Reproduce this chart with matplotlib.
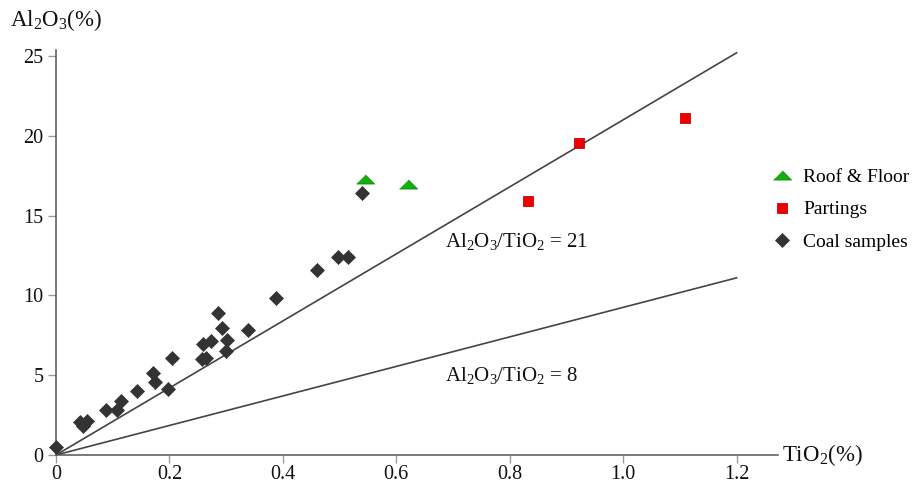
import matplotlib
matplotlib.use("Agg")
import matplotlib.pyplot as plt

plt.rcParams['font.family'] = ['Liberation Serif', 'DejaVu Serif']
plt.rcParams['mathtext.fontset'] = 'custom'
plt.rcParams['mathtext.rm'] = 'Liberation Serif'
plt.rcParams['mathtext.it'] = 'Liberation Serif:italic'

# ---- data ----
coal_tio2 = [0.0, 0.043, 0.048, 0.055, 0.088, 0.107, 0.115, 0.143, 0.171, 0.174,
             0.198, 0.205, 0.257, 0.264, 0.260, 0.274, 0.285, 0.293, 0.301, 0.299,
             0.339, 0.388, 0.460, 0.497, 0.515, 0.539]
coal_al2o3 = [0.5, 2.05, 1.8, 2.1, 2.85, 2.8, 3.4, 4.0, 5.15, 4.6,
              4.15, 6.1, 6.0, 6.05, 6.95, 7.15, 8.9, 7.95, 7.2, 6.5,
              7.85, 9.85, 11.6, 12.4, 12.4, 16.4]
roof_tio2 = [0.544, 0.621]
roof_al2o3 = [17.3, 17.0]
part_tio2 = [0.832, 0.922, 1.109]
part_al2o3 = [15.92, 19.54, 21.1]
ref_x_end = 1.2
ref_lines_y_end = [25.2, 11.1]   # end points of the reference lines at TiO2 = 1.2
ref_labels = [r'Al$_2$O$_3$/TiO$_2$ = 21', r'Al$_2$O$_3$/TiO$_2$ = 8']
x_ticks = [0, 0.2, 0.4, 0.6, 0.8, 1.0, 1.2]
x_tick_labels = ['0', '0.2', '0.4', '0.6', '0.8', '1.0', '1.2']
y_ticks = [0, 5, 10, 15, 20, 25]

W, H = 919, 487
fig = plt.figure(figsize=(W / 100, H / 100), dpi=100)
x0, x1 = 56, 778
y0, y1 = 455, 49.6
ax = fig.add_axes([x0 / W, (H - y0) / H, (x1 - x0) / W, (y0 - y1) / H])
ax.set_xlim(0, 1.273)
ax.set_ylim(0, 25.4)

line_col = '#444444'
for yend in ref_lines_y_end:
    ax.plot([0, ref_x_end], [0, yend], color=line_col, lw=1.2, zorder=1)

ax.text(0.685, 13.36, ref_labels[0], fontsize=15, ha='left', va='center', color='#111111')
ax.text(0.685, 5.0, ref_labels[1], fontsize=15, ha='left', va='center', color='#111111')

tri = [(-1, -0.5), (1, -0.5), (0, 0.5)]
ax.plot(roof_tio2, roof_al2o3, linestyle='none', marker=tri, markersize=13,
        color='#10b010', markeredgecolor='#0a8a0a', markeredgewidth=0.6,
        label='Roof & Floor', zorder=3, clip_on=False)
ax.plot(part_tio2, part_al2o3, linestyle='none', marker='s', markersize=7.5,
        color='#ee0000', markeredgecolor='#cc0000', markeredgewidth=0.6,
        label='Partings', zorder=3, clip_on=False)
ax.plot(coal_tio2, coal_al2o3, linestyle='none', marker='D', markersize=7,
        color='#333333', markeredgecolor='#333333', markeredgewidth=0.5,
        label='Coal samples', zorder=3, clip_on=False)

for s in ['top', 'right']:
    ax.spines[s].set_visible(False)
for s in ['left', 'bottom']:
    ax.spines[s].set_color('#555555')
    ax.spines[s].set_linewidth(1.1)

ax.set_xticks(x_ticks)
ax.set_xticklabels(x_tick_labels)
ax.set_yticks(y_ticks)
ax.tick_params(axis='both', labelsize=14.5, colors='#999999', labelcolor='#111111',
               length=6, width=1, direction='out')
ax.tick_params(axis='x', pad=1)
ax.tick_params(axis='y', pad=3)

fig.text(10 / W, 1 - 20 / H, r'Al$_2$O$_3$(%)', fontsize=16.5, ha='left', va='center', color='#111111')
fig.text(782 / W, 1 - 455 / H, r'TiO$_2$(%)', fontsize=16.5, ha='left', va='center', color='#111111')

leg = ax.legend(loc='upper left', bbox_to_anchor=(772 / W, 1 - 168 / H),
                bbox_transform=fig.transFigure, frameon=False, fontsize=14,
                handlelength=1.0, handletextpad=0.6, labelspacing=0.78,
                borderaxespad=0, borderpad=0)

fig.savefig('out.png', dpi=100, facecolor='white')
